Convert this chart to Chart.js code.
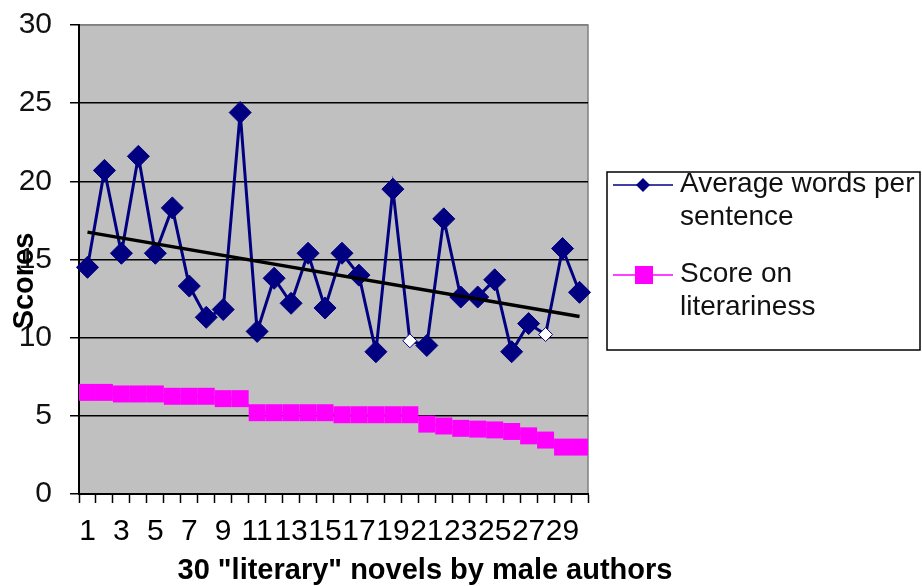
<!DOCTYPE html>
<html>
<head>
<meta charset="utf-8">
<script src="https://cdn.jsdelivr.net/npm/chart.js@4.4.1/dist/chart.umd.min.js"></script>
<style>
  html, body { margin: 0; padding: 0; background: #fff; }
  #wrap { width: 922px; height: 586px; position: relative; }
</style>
</head>
<body>
<div id="wrap"><canvas id="chart-1"></canvas></div>
<script>
const novels = [
  "1", "2", "3", "4", "5", "6", "7", "8", "9", "10",
  "11", "12", "13", "14", "15", "16", "17", "18", "19", "20",
  "21", "22", "23", "24", "25", "26", "27", "28", "29", "30",
];
const wordsPerSentence = [
  14.5, 20.7, 15.4, 21.6, 15.4, 18.3, 13.3, 11.3, 11.8, 24.4,
  10.4, 13.8, 12.2, 15.4, 11.9, 15.4, 14.0, 9.1, 19.5, 9.8,
  9.5, 17.6, 12.6, 12.6, 13.7, 9.1, 10.9, 10.2, 15.7, 12.9,
];
const literariness = [
  6.5, 6.5, 6.4, 6.4, 6.4, 6.25, 6.25, 6.25, 6.1, 6.1,
  5.2, 5.2, 5.2, 5.2, 5.2, 5.07, 5.07, 5.07, 5.07, 5.07,
  4.47, 4.35, 4.2, 4.15, 4.1, 4.0, 3.72, 3.45, 3.0, 3.0,
];
// linear trend of words per sentence, value at first and last novel
const trendEnds = [16.75, 11.35];
// novels whose marker is drawn hollow (white)
const hollowNovels = ["20", "28"];
const scoreTicks = [0, 5, 10, 15, 20, 25, 30];

const legendItems = [
  { lines: ["Average words per", "sentence"], color: "#000080", marker: "diamond" },
  { lines: ["Score on", "literariness"], color: "#ff00ff", marker: "square" },
];

const trendData = novels.map((n, i) =>
  i === 0 ? trendEnds[0] : i === novels.length - 1 ? trendEnds[1] : null
);

const plotBackground = {
  id: "plotBackground",
  beforeDraw(chart) {
    const { ctx, chartArea: a } = chart;
    ctx.save();
    ctx.fillStyle = "#c0c0c0";
    ctx.fillRect(a.left, a.top, a.right - a.left, a.bottom - a.top);
    ctx.strokeStyle = "#808080";
    ctx.lineWidth = 1.5;
    ctx.beginPath();
    ctx.moveTo(a.left, a.top);
    ctx.lineTo(a.right, a.top);
    ctx.lineTo(a.right, a.bottom);
    ctx.stroke();
    ctx.restore();
  },
};

const sideLegend = {
  id: "sideLegend",
  afterDraw(chart) {
    const { ctx } = chart;
    const box = { x: 607, y: 172, w: 313, h: 178 };
    ctx.save();
    ctx.fillStyle = "#fff";
    ctx.fillRect(box.x, box.y, box.w, box.h);
    ctx.strokeStyle = "#000";
    ctx.lineWidth = 1.5;
    ctx.strokeRect(box.x, box.y, box.w, box.h);

    legendItems.forEach((item, k) => {
      const cy = 185 + k * 90;
      ctx.strokeStyle = item.color;
      ctx.lineWidth = 1.5;
      ctx.beginPath();
      ctx.moveTo(613, cy);
      ctx.lineTo(673, cy);
      ctx.stroke();
      ctx.fillStyle = item.color;
      ctx.beginPath();
      if (item.marker === "diamond") {
        ctx.moveTo(643, cy - 7);
        ctx.lineTo(650, cy);
        ctx.lineTo(643, cy + 7);
        ctx.lineTo(636, cy);
        ctx.closePath();
      } else {
        ctx.rect(635, cy - 9, 18, 18);
      }
      ctx.fill();

      ctx.fillStyle = "#111";
      ctx.font = "28px 'Liberation Sans', Arial, sans-serif";
      ctx.textAlign = "left";
      ctx.textBaseline = "alphabetic";
      item.lines.forEach((line, j) => {
        ctx.fillText(line, 680, cy + 7 + j * 33);
      });
    });

    // axis titles
    ctx.fillStyle = "#000";
    ctx.font = "bold 29px 'Liberation Sans', Arial, sans-serif";
    ctx.textAlign = "center";
    ctx.textBaseline = "middle";
    ctx.fillText('30 "literary" novels by male authors', 425, 571);
    ctx.translate(25, 281);
    ctx.rotate(-Math.PI / 2);
    ctx.fillText("Scores", 0, 0);
    ctx.restore();
  },
};

const config = {
  type: "line",
  data: {
    labels: novels,
    datasets: [
      {
        label: "Trend",
        data: trendData,
        spanGaps: true,
        borderColor: "#000",
        borderWidth: 3.5,
        pointRadius: 0,
        order: 0,
      },
      {
        label: "Average words per sentence",
        data: wordsPerSentence,
        borderColor: "#000080",
        borderWidth: 3,
        pointStyle: "rectRot",
        pointRadius: novels.map((n) => (hollowNovels.includes(n) ? 7 : 11)),
        pointBackgroundColor: novels.map((n) => (hollowNovels.includes(n) ? "#fff" : "#000080")),
        pointBorderColor: "#000080",
        pointBorderWidth: 1,
        order: 1,
      },
      {
        label: "Score on literariness",
        data: literariness,
        borderColor: "#ff00ff",
        borderWidth: 2,
        pointStyle: "rect",
        pointRadius: 12,
        pointBackgroundColor: "#ff00ff",
        pointBorderColor: "#ff00ff",
        pointBorderWidth: 0,
        order: 2,
      },
    ],
  },
  options: {
    responsive: true,
    maintainAspectRatio: false,
    animation: false,
    layout: {
      padding: { top: 25, right: 334, bottom: 0, left: 0 },
    },
    scales: {
      x: {
        offset: true,
        afterFit: (scale) => {
          scale.height = 92;
          scale.paddingLeft = 0;
          scale.paddingRight = 0;
        },
        grid: {
          offset: true,
          drawOnChartArea: false,
          drawTicks: true,
          tickLength: 9,
          tickColor: "#000",
          tickWidth: 1.5,
        },
        border: { color: "#000", width: 2 },
        ticks: {
          autoSkip: false,
          maxRotation: 0,
          padding: 11,
          color: "#000",
          font: { family: "'Liberation Sans', Arial, sans-serif", size: 30 },
          callback: function (value, index) {
            return index % 2 === 0 ? this.getLabelForValue(value) : "";
          },
        },
      },
      y: {
        min: scoreTicks[0],
        max: scoreTicks[scoreTicks.length - 1],
        afterFit: (scale) => {
          scale.width = 79;
          scale.paddingTop = 0;
          scale.paddingBottom = 0;
        },
        grid: {
          color: (c) => (c.tick && c.tick.value === scoreTicks[scoreTicks.length - 1] ? "#808080" : "#000"),
          lineWidth: 1.5,
          tickLength: 9,
          tickColor: "#000",
          tickWidth: 1.5,
        },
        border: { color: "#000", width: 2 },
        ticks: {
          stepSize: scoreTicks[1] - scoreTicks[0],
          padding: 18,
          color: "#111",
          font: { family: "'Liberation Sans', Arial, sans-serif", size: 30 },
        },
      },
    },
    plugins: {
      legend: { display: false },
      tooltip: { enabled: false },
    },
  },
  plugins: [plotBackground, sideLegend],
};

const chart1 = new Chart(document.getElementById("chart-1"), config);
</script>
</body>
</html>
